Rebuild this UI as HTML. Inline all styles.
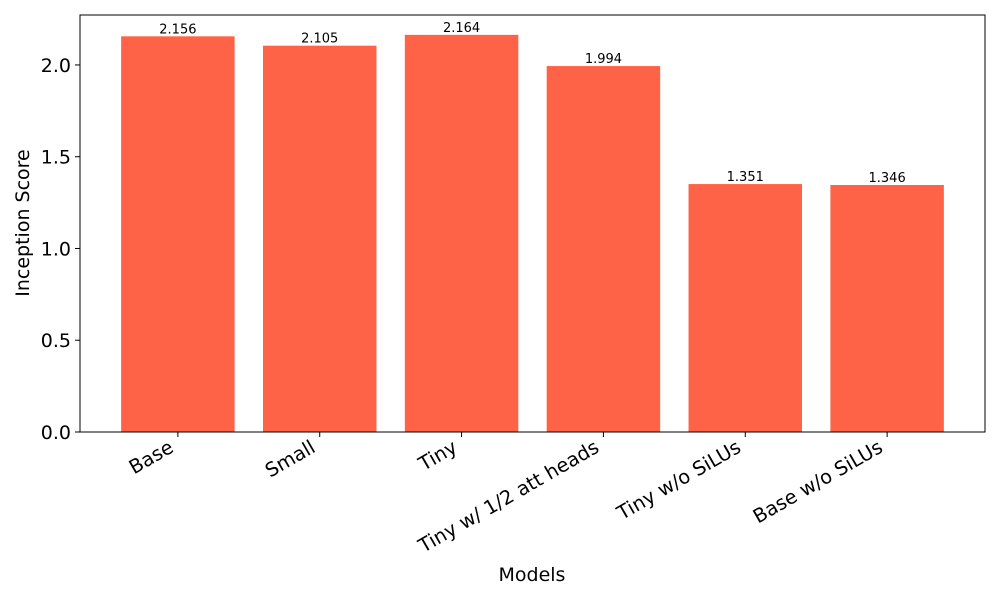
<!DOCTYPE html>
<html><head><meta charset="utf-8"><style>
html,body{margin:0;padding:0;background:#fff;}
svg{display:block;font-family:"DejaVu Sans","Liberation Sans",sans-serif;}
</style></head><body>
<svg id="chart" width="1000" height="600">
<rect x="80" y="15" width="905" height="417" fill="#fff"/>
<g id="bars"></g><g id="axes"></g>
<rect x="80" y="15" width="905" height="417" fill="none" stroke="#000" stroke-width="1"/>
<text x="532" y="581" text-anchor="middle" font-size="19">Models</text>
<text transform="translate(29,223) rotate(-90)" text-anchor="middle" font-size="19">Inception Score</text>
</svg>
<script>
const categories = ["Base","Small","Tiny","Tiny w/ 1/2 att heads","Tiny w/o SiLUs","Base w/o SiLUs"];
const values = [2.156,2.105,2.164,1.994,1.351,1.346];
const yTicks = [0,0.5,1.0,1.5,2.0];
const yTickLabels = ["0.0","0.5","1.0","1.5","2.0"];

const L=80,R=985,T=15,B=432;
const xmin=-0.69,xmax=5.69;
const ymax=Math.max(...values)*1.05;
const xs=v=>L+(v-xmin)/(xmax-xmin)*(R-L);
const ys=v=>B-v/ymax*(B-T);
const NS="http://www.w3.org/2000/svg";
const bars=document.getElementById('bars'),axes=document.getElementById('axes');
function mk(tag,attrs,parent,txt){const e=document.createElementNS(NS,tag);for(const k in attrs)e.setAttribute(k,attrs[k]);if(txt!==undefined)e.textContent=txt;parent.appendChild(e);return e;}
categories.forEach((c,i)=>{
  const x0=xs(i-0.4),x1=xs(i+0.4),y=ys(values[i]);
  const r=mk('rect',{x:x0,y:y,width:x1-x0,height:B-y,fill:'#ff6347'},bars);
  
  
  const t=mk('text',{x:xs(i),y:y-3,'text-anchor':'middle','font-size':13},bars,values[i].toFixed(3));
  
  
  const tk=mk('line',{x1:xs(i),x2:xs(i),y1:B,y2:B+5,stroke:'#000'},axes);
  
  
  const lb=mk('text',{transform:`translate(${xs(i)-3},${B+19}) rotate(-30)`,'text-anchor':'end','font-size':19.4},axes,c);
  
  
});
yTicks.forEach((v,i)=>{
  const y=ys(v);
  const tk=mk('line',{x1:L-5,x2:L,y1:y,y2:y,stroke:'#000'},axes);
  
  
  const lb=mk('text',{x:L-9,y:y+7,'text-anchor':'end','font-size':19},axes,yTickLabels[i]);
  
  
});
</script>
</body></html>
